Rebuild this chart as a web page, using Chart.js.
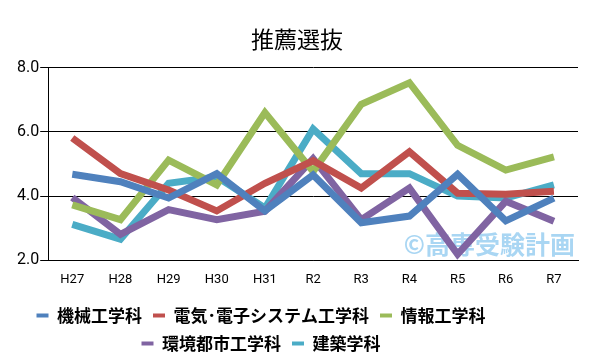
<!DOCTYPE html>
<html><head><meta charset="utf-8">
<script src="https://cdn.jsdelivr.net/npm/chart.js@4/dist/chart.umd.min.js"></script>
<style>html,body{margin:0;padding:0;background:#fff}</style>
</head><body>
<canvas id="c" width="600" height="360"></canvas>
<script>
const categories = ["H27","H28","H29","H30","H31","R2","R3","R4","R5","R6","R7"];
const kikai   = [4.68,4.45,3.94,4.70,3.54,4.66,3.17,3.38,4.68,3.23,3.94];
const denki   = [5.81,4.70,4.19,3.54,4.40,5.10,4.25,5.38,4.09,4.06,4.15];
const joho    = [3.73,3.27,5.12,4.35,6.60,4.77,6.86,7.53,5.58,4.81,5.22];
const kankyo  = [3.96,2.81,3.58,3.27,3.53,5.17,3.27,4.25,2.19,3.84,3.22];
const kenchiku= [3.12,2.66,4.40,4.60,3.63,6.09,4.70,4.70,4.00,3.94,4.35];
const seriesNames = ["機械工学科","電気･電子システム工学科","情報工学科","環境都市工学科","建築学科"];
const yTicks = [2,4,6,8];
const colors = ["#4f81bd","#c0504d","#9bbb59","#8064a2","#4bacc6"];
const allData = [kikai,denki,joho,kankyo,kenchiku];

const watermark = {
  id:'wm',
  beforeDatasetsDraw(chart){
    const ctx = chart.ctx;
    ctx.save();
    ctx.font = 'bold 25px "Noto Sans CJK JP"';
    ctx.fillStyle = '#a9d6f3';
    ctx.textAlign = 'right';
    ctx.textBaseline = 'middle';
    ctx.fillText('©高専受験計画', chart.chartArea.right - 3, 244);
    ctx.restore();
  }
};
const legendShift = {
  id:'legendShift',
  afterLayout(chart){
    const lg = chart.legend;
    lg.left -= 36; lg.right -= 36;
    lg.top += 2; lg.bottom += 2;
  }
};

new Chart(document.getElementById('c'), {
  type:'line',
  data:{
    labels: categories,
    datasets: allData.map((d,i)=>({
      label: seriesNames[i], data: d, borderColor: colors[i], backgroundColor: colors[i],
      borderWidth: 7, pointRadius: 0, tension: 0, fill:false
    }))
  },
  options:{
    responsive:false, animation:false,
    layout:{padding:{left:16,right:22,top:0,bottom:0}},
    plugins:{
      title:{display:true,text:'推薦選抜',color:'#000',font:{family:'"Noto Sans CJK JP"',size:23,weight:'normal'},padding:{top:25,bottom:15}},
      legend:{position:'bottom',
        labels:{color:'#000',font:{family:'"Noto Sans CJK JP"',size:17,weight:'bold'},boxWidth:12,boxHeight:4,padding:11,
          generateLabels(chart){
            const items = Chart.defaults.plugins.legend.labels.generateLabels(chart);
            items.forEach(it=>{it.lineWidth=0;});
            return items;
          }}},
      tooltip:{enabled:false}
    },
    scales:{
      x:{offset:true,grid:{display:false,drawTicks:false},border:{color:'#000',width:1},
         afterFit(s){ s.height -= 6; },
         ticks:{color:'#000',font:{family:'Roboto',size:13},padding:12}},
      y:{min:2,max:8,afterBuildTicks(s){s.ticks=yTicks.map(v=>({value:v}));},
         grid:{color:'#000',drawTicks:true,tickLength:8},border:{color:'#000',width:1,display:true},
         ticks:{color:'#000',font:{family:'Roboto',size:16},padding:1,callback:v=>v.toFixed(1)}}
    }
  },
  plugins:[watermark,legendShift]
});
</script>
</body></html>
